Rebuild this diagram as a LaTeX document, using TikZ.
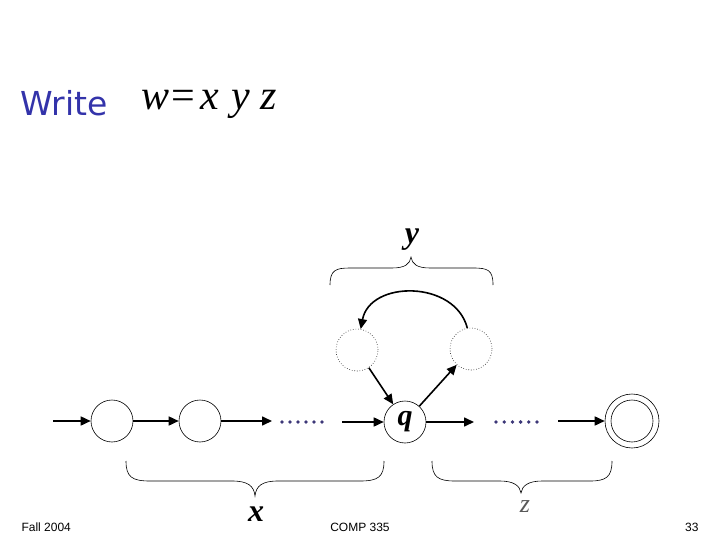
\documentclass[tikz,border=0pt]{standalone}
\usepackage{fontspec}
\setmainfont{Liberation Serif}
\newfontfamily\footfont{Liberation Sans}
\newfontfamily\writefont{DejaVu Sans}
\usetikzlibrary{arrows.meta}
\definecolor{writeblue}{RGB}{51,51,170}
\definecolor{dotblue}{RGB}{60,55,120}
\tikzset{
  st/.style={draw,circle,minimum size=42pt,inner sep=0pt,line width=0.6pt},
  dst/.style={st,dotted},
  arr/.style={line width=1.6pt,-{Triangle[length=10pt,width=9pt]}},
  brace/.style={line width=0.6pt},
  lbl/.style={font=\fontsize{32}{32}\selectfont\bfseries\itshape},
  foot/.style={font=\footfont\fontsize{12}{12}\selectfont}
}
\begin{document}
\begin{tikzpicture}[x=1pt,y=-1pt]
\useasboundingbox (0,0) rectangle (720,540);
% title
\node[text=writeblue,font=\writefont\fontsize{33}{33}\selectfont] (wr) at (64,103) {Write};
\node[font=\fontsize{42}{42}\selectfont,anchor=west,inner sep=0pt] (eq) at (141,104) {\textit{w}\hspace{0.06em}=\hspace{0.12em}\textit{x}\hspace{0.3em}\textit{y}\hspace{0.25em}\textit{z}};
% states
\node[st] (c1) at (112,421) {};
\node[st] (c2) at (200,421) {};
\node[st,font=\fontsize{30}{30}\selectfont\bfseries\itshape] (q) at (405,422) {q};
\node[dst] (l) at (357,350) {};
\node[dst] (r) at (471,349) {};
\node[st] (f) at (632,421) {};
\node[draw,circle,minimum size=54pt,inner sep=0pt,line width=0.6pt] (fo) at (632,421) {};
\coordinate (s0) at (53,421);
\coordinate (e2) at (272,421);
\coordinate (s3) at (342,422);
\coordinate (eq3) at (474,422);
\coordinate (s4) at (558,421);
% arrows
\draw[arr] (s0) -- (c1);
\draw[arr] (c1) -- (c2);
\draw[arr] (c2) -- (e2);
\draw[arr] (s3) -- (q);
\draw[arr] (q) -- (eq3);
\draw[arr] (s4) -- (fo);
\draw[arr] (l) -- (q);
\draw[arr] (q) -- (r);
\draw[arr] (r.100) .. controls (455,280) and (370,280) .. (l.80);
% dots
\foreach \i in {0,...,5} {
  \fill[dotblue] (282+\i*8,422) circle (1.9pt);
  \fill[dotblue] (496+\i*8.2,422) circle (1.9pt);
}
% braces
\draw[brace] (330,285) .. controls (330,270) and (336,268) .. (350,268) -- (392,268) .. controls (405,268) and (410,264) .. (411,257)
  .. controls (412,264) and (417,268) .. (430,268) -- (473,268) .. controls (488,268) and (493,270) .. (493,285);
\draw[brace] (126,461) .. controls (126,477) and (132,481) .. (150,481) -- (232,481) .. controls (248,481) and (254,486) .. (255,496)
  .. controls (256,486) and (262,481) .. (278,481) -- (360,481) .. controls (378,481) and (384,477) .. (384,461);
\draw[brace] (432,461) .. controls (432,477) and (438,481) .. (455,481) -- (500,481) .. controls (514,481) and (520,486) .. (521,493)
  .. controls (522,486) and (528,481) .. (542,481) -- (590,481) .. controls (606,481) and (612,477) .. (612,461);
% labels
\node[lbl] (ly) at (412,240) {y};
\node[lbl] (lx) at (256,514) {x};
\node[font=\fontsize{26}{26}\selectfont\itshape,text=black!65] (lz) at (525,507) {z};
% footer
\node[foot,anchor=west] (fall) at (18,527) {Fall 2004};
\node[foot] (comp) at (360,527) {COMP 335};
\node[foot,anchor=east] (pg) at (702,527) {33};
\end{tikzpicture}
\end{document}
